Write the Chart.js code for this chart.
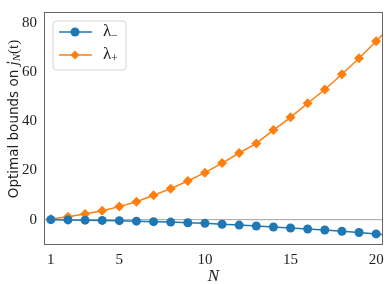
<!DOCTYPE html>
<html>
<head>
<meta charset="utf-8">
<script src="https://cdn.jsdelivr.net/npm/chart.js@4.4.0/dist/chart.umd.min.js"></script>
<style>
  html, body { margin: 0; padding: 0; background: #fff; }
  #wrap { width: 390px; height: 284px; }
</style>
</head>
<body>
<div id="wrap"><canvas id="bounds-plot"></canvas></div>
<script>
// values
const nValues = [1, 2, 3, 4, 5, 6, 7, 8, 9, 10, 11, 12, 13, 14, 15, 16, 17, 18, 19, 20, 21];
const lambdaMinus = [0, -0.1, -0.2, -0.3, -0.4, -0.6, -0.8, -1.0, -1.25, -1.5, -1.85, -2.2, -2.6, -3.0, -3.4, -3.8, -4.2, -4.7, -5.2, -5.8, -6.3];
const lambdaPlus = [0.3, 1.2, 2.3, 3.6, 5.3, 7.3, 9.9, 12.6, 15.7, 19.1, 23.0, 27.1, 31.0, 36.4, 41.6, 47.3, 52.9, 59.1, 65.6, 72.5, 79.8];
const xTicks = [1, 5, 10, 15, 20];
const yTicks = [0, 20, 40, 60, 80];

const blue = '#1f77b4';
const orange = '#ff7f0e';
const serif = '"Liberation Serif", "DejaVu Serif", serif';

function toPoints(ys) {
    let pts = [];
    for (let i = 0; i < nValues.length; i++) {
        pts.push({ x: nValues[i], y: ys[i] });
    }
    return pts;
}

// frame, zero line, legend and y title
const decorations = {
    id: 'decorations',
    beforeDatasetsDraw(chart) {
        const ctx = chart.ctx;
        const area = chart.chartArea;
        const y0 = chart.scales.y.getPixelForValue(0);
        ctx.save();
        ctx.strokeStyle = '#a0a0a0';
        ctx.lineWidth = 1;
        ctx.beginPath();
        ctx.moveTo(area.left, y0);
        ctx.lineTo(area.right, y0);
        ctx.stroke();
        ctx.restore();
    },
    afterDraw(chart) {
        const ctx = chart.ctx;
        const area = chart.chartArea;
        ctx.save();
        ctx.strokeStyle = '#666';
        ctx.lineWidth = 1;
        ctx.strokeRect(area.left + 0.5, area.top + 0.5, area.right - area.left - 1, area.bottom - area.top - 1);

        // legend box
        const lx = area.left + 9, ly = area.top + 9;
        ctx.fillStyle = 'rgba(255,255,255,0.8)';
        ctx.strokeStyle = '#d6d6d6';
        ctx.beginPath();
        ctx.roundRect(lx, ly, 73, 49, 3);
        ctx.fill();
        ctx.stroke();

        const entries = [
            { color: blue, style: 'circle', sub: '\u2212', y: ly + 11 },
            { color: orange, style: 'rectRot', sub: '+', y: ly + 34 }
        ];
        for (const e of entries) {
            ctx.strokeStyle = e.color;
            ctx.lineWidth = 1.5;
            ctx.beginPath();
            ctx.moveTo(lx + 6, e.y);
            ctx.lineTo(lx + 39, e.y);
            ctx.stroke();
            ctx.fillStyle = e.color;
            Chart.helpers.drawPoint(ctx, { pointStyle: e.style, radius: 4.5, borderWidth: 0 }, lx + 22, e.y);
            ctx.fillStyle = '#222';
            ctx.textBaseline = 'middle';
            ctx.font = '17px ' + serif;
            ctx.fillText('\u03bb', lx + 50, e.y);
            ctx.font = '12px ' + serif;
            ctx.fillText(e.sub, lx + 58, e.y + 4);
        }

        // rotated y title
        ctx.translate(14, 119);
        ctx.rotate(-Math.PI / 2);
        ctx.fillStyle = '#222';
        ctx.textBaseline = 'middle';
        const parts = [
            { t: 'Optimal bounds on ', f: '13.5px "DejaVu Sans", sans-serif', dy: 0 },
            { t: 'j\u0307', f: 'italic 15px ' + serif, dy: 0 },
            { t: 'N', f: 'italic 11px ' + serif, dy: 3 },
            { t: '(t)', f: '15px ' + serif, dy: 0 }
        ];
        let total = 0;
        for (const p of parts) {
            ctx.font = p.f;
            total += ctx.measureText(p.t).width;
        }
        let x = -total / 2;
        for (const p of parts) {
            ctx.font = p.f;
            ctx.fillText(p.t, x, p.dy);
            x += ctx.measureText(p.t).width;
        }
        ctx.restore();
    }
};

let ctxPlot = document.getElementById('bounds-plot').getContext('2d');
new Chart(ctxPlot, {
    type: 'line',
    data: {
        datasets: [{
            label: '\u03bb\u2212',
            data: toPoints(lambdaMinus),
            borderColor: blue,
            backgroundColor: blue,
            borderWidth: 1.5,
            pointStyle: 'circle',
            pointRadius: 4.5,
            pointBorderWidth: 0,
            tension: 0
        }, {
            label: '\u03bb+',
            data: toPoints(lambdaPlus),
            borderColor: orange,
            backgroundColor: orange,
            borderWidth: 1.5,
            pointStyle: 'rectRot',
            pointRadius: 5,
            pointBorderWidth: 0,
            tension: 0
        }]
    },
    options: {
        responsive: true,
        maintainAspectRatio: false,
        animation: false,
        devicePixelRatio: 1,
        layout: { padding: { top: 6, right: 7, left: 0, bottom: 0 } },
        plugins: {
            legend: { display: false },
            tooltip: { enabled: false }
        },
        scales: {
            x: {
                type: 'linear',
                min: 0.6,
                max: 20.4,
                grid: { display: false, drawTicks: true, tickLength: 4, tickColor: '#444' },
                border: { display: false },
                afterBuildTicks(scale) {
                    scale.ticks = xTicks.map(v => ({ value: v }));
                },
                afterFit(scale) { scale.height = 39; },
                ticks: {
                    color: '#222',
                    padding: 2,
                    maxRotation: 0,
                    font: { family: serif, size: 15 }
                },
                title: {
                    display: true,
                    text: 'N',
                    color: '#222',
                    padding: { top: 0, bottom: -3 },
                    font: { family: serif, size: 17, style: 'italic' }
                }
            },
            y: {
                type: 'linear',
                min: -10.3,
                max: 84.4,
                grid: { display: false, drawTicks: true, tickLength: 4, tickColor: '#444' },
                border: { display: false },
                afterBuildTicks(scale) {
                    scale.ticks = yTicks.map(v => ({ value: v }));
                },
                afterFit(scale) { scale.width = 44; },
                ticks: {
                    color: '#222',
                    padding: 3,
                    font: { family: serif, size: 15 }
                }
            }
        }
    },
    plugins: [decorations]
});
</script>
</body>
</html>
